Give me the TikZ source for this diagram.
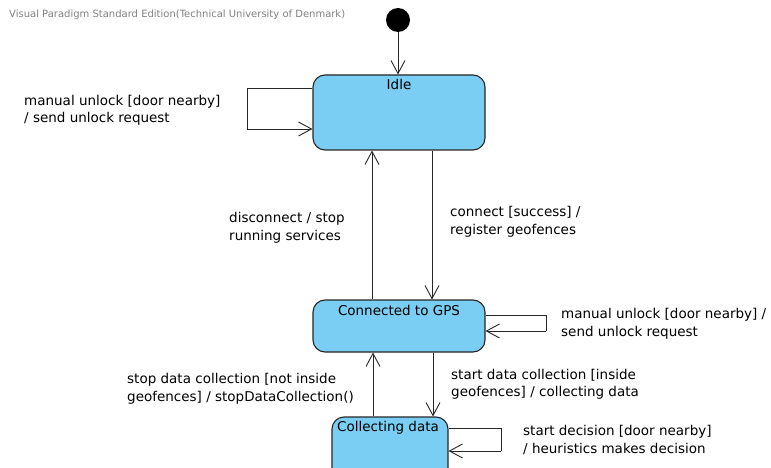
\documentclass[tikz,border=0pt]{standalone}
\usepackage{fontspec}
\setmainfont{DejaVu Sans}
\usetikzlibrary{arrows.meta}
\definecolor{statefill}{RGB}{122,206,244}
\definecolor{hdr}{RGB}{128,128,128}
\tikzset{
  statebox/.style={draw=black!85, line width=1.1pt, fill=statefill, rounded corners=12pt, inner sep=0pt},
  statename/.style={font=\fontsize{13.5}{16}\selectfont, inner sep=0pt, anchor=north},
  trans/.style={line width=0.9pt, draw=black!85, -{Straight Barb[length=13pt,width=14pt,line width=0.9pt]}},
  loopline/.style={line width=0.9pt, draw=black!85},
  tlabel/.style={font=\fontsize{13.5}{17.5}\selectfont, align=left, anchor=west, inner sep=0pt}
}
\begin{document}
\begin{tikzpicture}[x=1pt,y=-1pt]
\useasboundingbox (0,0) rectangle (771,468);
\clip (0,0) rectangle (771,468);
\node[anchor=west, inner sep=0pt, text=hdr, font=\fontsize{10}{12}\selectfont] (hdr) at (9,15) {Visual Paradigm Standard Edition(Technical University of Denmark)};
\node[circle, fill=black, minimum size=24pt, inner sep=0pt] (init) at (398,20) {};
\node[statebox, minimum width=172pt, minimum height=75pt] (idle) at (399,112.5) {};
\node[statename] (idlet) at (399,79.5) {Idle};
\node[statebox, minimum width=172pt, minimum height=52pt] (gps) at (399,326) {};
\node[statename] (gpst) at (399,305) {Connected to GPS};
\node[statebox, minimum width=116pt, minimum height=70pt] (coll) at (390,452) {};
\node[statename] (collt) at (388,421.5) {Collecting data};
% initial
\draw[trans] (init) -- (init |- idle.north);
% idle self loop
\draw[loopline] (idle.west |- 0,88) -- (247,88) -- (247,129) coordinate (c1);
\draw[trans] (c1) -- (idle.west |- c1);
% idle <-> gps
\draw[trans] (idle.south -| 432,0) -- (gps.north -| 432,0);
\draw[trans] (gps.north -| 372,0) -- (idle.south -| 372,0);
% gps self loop
\draw[loopline] (gps.east |- 0,315) -- (546,315) -- (546,331) coordinate (c2);
\draw[trans] (c2) -- (gps.east |- c2);
% gps <-> coll
\draw[trans] (gps.south -| 433,0) -- (coll.north -| 433,0);
\draw[trans] (coll.north -| 373,0) -- (gps.south -| 373,0);
% coll self loop
\draw[loopline] (coll.east |- 0,428) -- (501,428) -- (501,451) coordinate (c3);
\draw[trans] (c3) -- (coll.east |- c3);
% labels
\node[tlabel] (l1) at (24,110.5) {manual unlock [door nearby]\\/ send unlock request};
\node[tlabel] (l2) at (229,228) {disconnect / stop\\running services};
\node[tlabel] (l3) at (450,222) {connect [success] /\\register geofences};
\node[tlabel] (l4) at (561,324) {manual unlock [door nearby] /\\send unlock request};
\node[tlabel] (l5) at (127,389) {stop data collection [not inside\\geofences] / stopDataCollection()};
\node[tlabel] (l6) at (451,384.5) {start data collection [inside\\geofences] / collecting data};
\node[tlabel] (l7) at (523,440) {start decision [door nearby]\\/ heuristics makes decision};
\end{tikzpicture}
\end{document}
